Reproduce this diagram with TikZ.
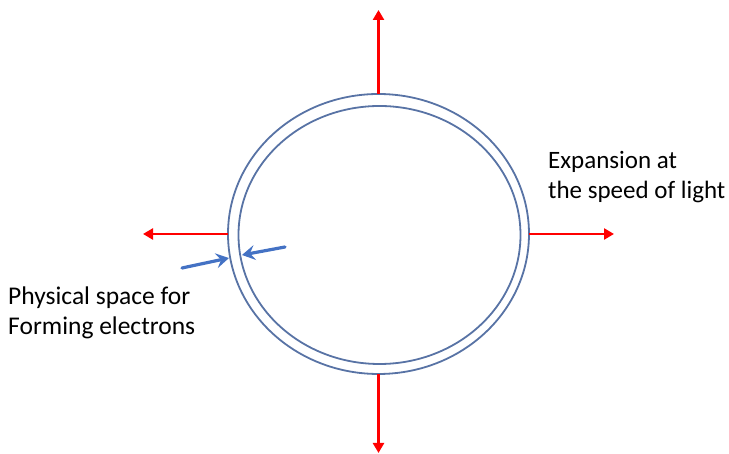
\documentclass[tikz,border=0pt]{standalone}
\usepackage{fontspec}
\setmainfont{Carlito}
\usetikzlibrary{shapes.geometric,arrows.meta}
\definecolor{ringblue}{RGB}{88,115,165}
\definecolor{arrblue}{RGB}{68,114,196}
\definecolor{expred}{RGB}{255,0,0}
\tikzset{
  ring/.style={ellipse, draw=ringblue, line width=1.8pt, outer sep=0pt, inner sep=0pt},
  redarrow/.style={draw=expred, line width=2.8pt, -{Triangle[length=10pt,width=11pt]}},
  bluearrow/.style={draw=arrblue, line width=3.2pt, line cap=round, -{Stealth[length=13pt,width=15pt,inset=5pt]}},
  label/.style={align=left, inner sep=0pt}
}
\begin{document}
\begin{tikzpicture}[x=1pt,y=1pt]
\useasboundingbox (0,0) rectangle (729,454);
\node[ring, minimum width=301pt, minimum height=280pt] (outer) at (378.5,220) {};
\node[ring, minimum width=282pt, minimum height=258pt] (inner) at (379.5,219) {};
\coordinate (topend) at (378.5,444);
\coordinate (botend) at (378.5,1);
\coordinate (rightend) at (614,220);
\coordinate (leftend) at (143,220);
\draw[redarrow] (outer.north) -- (topend);
\draw[redarrow] (outer.south) -- (botend);
\draw[redarrow] (outer.east) -- (rightend);
\draw[redarrow] (outer.west) -- (leftend);
\coordinate (b1s) at (182,186);
\coordinate (b1e) at (229,196);
\coordinate (b2s) at (285,207);
\coordinate (b2e) at (242,199);
\draw[bluearrow] (b1s) -- (b1e);
\draw[bluearrow] (b2s) -- (b2e);
\node[label, anchor=north west, font=\fontsize{25.5}{30}\selectfont] (phys) at (8,167) {Physical space for\\Forming electrons};
\node[label, anchor=north west, font=\fontsize{25}{30}\selectfont] (exp) at (548,303) {Expansion at\\the speed of light};
\end{tikzpicture}
\end{document}
